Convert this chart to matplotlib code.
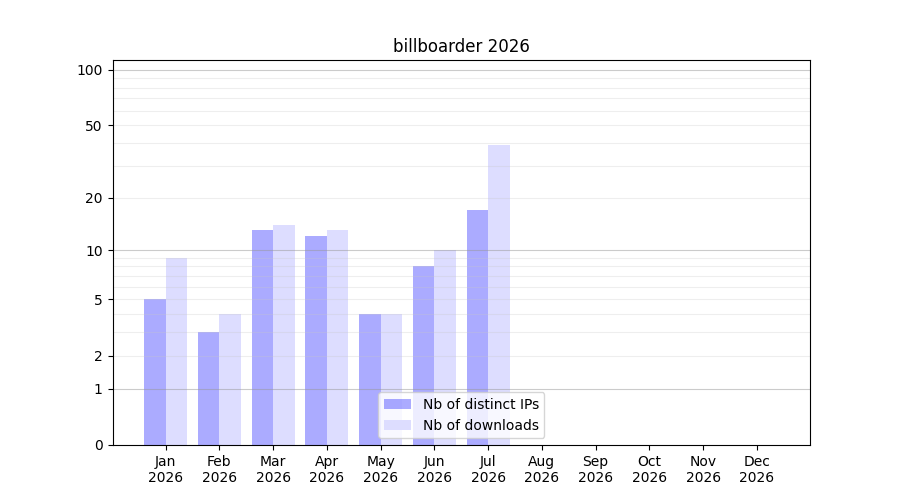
import numpy as np
import matplotlib
matplotlib.use("Agg")
import matplotlib.pyplot as plt

months = ["Jan", "Feb", "Mar", "Apr", "May", "Jun", "Jul", "Aug", "Sep", "Oct", "Nov", "Dec"]
year = "2026"
distinct_ips = [5, 3, 13, 12, 4, 8, 17, 0, 0, 0, 0, 0]
downloads = [9, 4, 14, 13, 4, 10, 39, 0, 0, 0, 0, 0]
yticks = [0, 1, 2, 5, 10, 20, 50, 100]

fig, ax = plt.subplots(figsize=(9, 5), dpi=100)
x = np.arange(len(months))
w = 0.4
ax.bar(x - w / 2, distinct_ips, width=w, color="blue", alpha=0.33, label="Nb of distinct IPs", zorder=1)
ax.bar(x + w / 2, downloads, width=w, color="#ddddff", label="Nb of downloads", zorder=1)

fwd = lambda v: np.log10(1 + np.asarray(v, dtype=float).clip(0))
inv = lambda v: 10 ** np.asarray(v, dtype=float) - 1
ax.set_yscale("function", functions=(fwd, inv))
ax.set_ylim(0, 113)
ax.set_yticks(yticks)
ax.set_yticklabels([str(t) for t in yticks])
ax.minorticks_off()

for v in [2, 3, 4, 5, 6, 7, 8, 9, 20, 30, 40, 50, 60, 70, 80, 90]:
    ax.axhline(v, color="#c8c8c8", lw=0.8, alpha=0.3, zorder=2)
for v in [1, 10, 100]:
    ax.axhline(v, color="#999999", lw=0.8, alpha=0.5, zorder=2)

ax.set_xticks(x)
ax.set_xticklabels([f"{m}\n{year}" for m in months])
ax.set_title("billboarder 2026")
ax.legend(loc="lower center")
fig.savefig("out.png", dpi=100)
